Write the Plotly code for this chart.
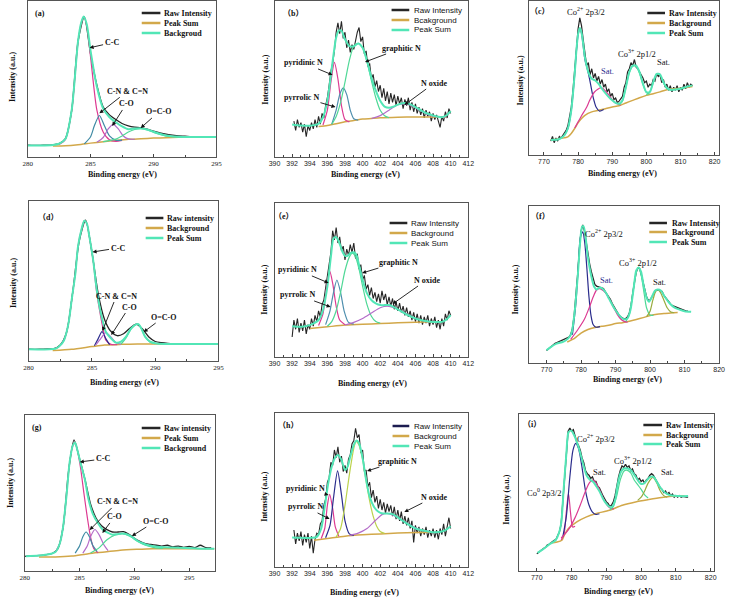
import plotly.graph_objects as go

W, H = 731, 597

# ===================== DATA (intensity in % of panel height) =====================
# ---- (a) C 1s ----
a_raw_E = [280, 280.5, 281, 281.5, 282, 282.5, 283, 283.5, 284, 284.5, 285, 285.5, 286, 286.5, 287, 287.5, 288, 288.5,
           289, 289.5, 290, 290.5, 291, 291.5, 292, 292.5, 293, 293.5, 294, 294.5, 295]
a_raw_I = [7.6, 7.4, 7.5, 7.6, 7.8, 8.6, 11.8, 30, 74, 90, 66, 46, 32, 27, 24, 21.5, 20, 19.2, 18.8, 17.8, 16.6, 15.5,
           14.6, 14.0, 13.5, 13.3, 13.0, 13.1, 12.9, 13.0, 12.9]
a_env_E = [280, 281, 282, 282.5, 283, 283.5, 284, 284.25, 284.45, 284.7, 285, 285.5, 286, 286.5, 287, 287.5, 288, 288.5,
           289, 289.5, 290, 290.5, 291, 292, 293, 294, 295]
a_env_I = [7.4, 7.4, 7.7, 8.5, 11.5, 30, 74, 86, 90, 85, 68, 45, 31, 25.5, 22.3, 19.6, 17.8, 18.2, 18.5, 17.6, 16.2, 14.9,
           13.8, 13.0, 12.8, 12.8, 12.8]
a_bg_E = [282, 283, 284, 285, 286, 287, 288, 289, 290, 291, 292, 293, 295]
a_bg_I = [7.0, 7.2, 7.9, 8.9, 9.8, 10.6, 11.3, 11.7, 12.1, 12.3, 12.6, 12.8, 12.8]
a_cc_E = [282.5, 283, 283.5, 284, 284.25, 284.45, 284.7, 285, 285.5, 286, 286.5, 287, 287.5]
a_cc_I = [8.0, 11.3, 29.5, 73.5, 85.5, 90, 84, 64, 30, 16, 11, 10, 10.6]
a_cn_E = [284.5, 285, 285.3, 285.7, 286.1, 286.5, 287, 287.5]
a_cn_I = [8.4, 13, 20, 26.6, 20, 13.5, 10.8, 10.8]
a_co_E = [285.5, 286, 286.4, 286.8, 287.2, 287.6, 288, 288.5]
a_co_I = [9.4, 12.5, 18, 20.9, 18, 13.5, 11.6, 11.4]
a_oco_E = [286, 287, 287.5, 288, 288.5, 289, 289.5, 290, 290.5, 291, 292, 293]
a_oco_I = [9.9, 11.5, 13.5, 16, 17.6, 18.1, 17.4, 15.8, 14.4, 13.4, 12.8, 12.8]

# ---- (b) N 1s ----
b_raw_E = [392.2, 392.4, 392.6, 392.8, 393.0, 393.2, 393.4, 393.6, 393.8, 394.0, 394.2, 394.4, 394.6, 394.8, 395.0,
           395.2, 395.4, 395.6, 395.8, 396.0, 396.2, 396.4, 396.6, 396.8, 397.0, 397.2, 397.4, 397.6, 397.8, 398.0,
           398.2, 398.4, 398.6, 398.8, 399.0, 399.2, 399.4, 399.6, 399.8, 400.0, 400.2, 400.4, 400.6, 400.8, 401.0,
           401.2, 401.4, 401.6, 401.8, 402.0, 402.2, 402.4, 402.6, 402.8, 403.0, 403.2, 403.4, 403.6, 403.8, 404.0,
           404.2, 404.4, 404.6, 404.8, 405.0, 405.2, 405.4, 405.6, 405.8, 406.0, 406.2, 406.4, 406.6, 406.8, 407.0,
           407.2, 407.4, 407.6, 407.8, 408.0, 408.2, 408.4, 408.6, 408.8, 409.0, 409.2, 409.4, 409.6, 409.8, 410.0]
b_raw_I = [23, 17, 24, 19, 22, 16, 21, 13, 20, 17, 22, 18, 24, 19, 26, 21, 28, 25, 33, 38,
           46, 55, 60, 68, 80, 86, 79, 87, 76, 80, 70, 75, 67, 72, 69, 76, 80, 83, 74, 77,
           66, 68, 58, 60, 50, 53, 45, 49, 42, 46, 38, 44, 36, 42, 34, 41, 35, 40, 33, 39,
           34, 38, 31, 37, 33, 38, 30, 35, 29, 34, 28, 32, 27, 31, 25, 30, 26, 29, 23, 28,
           24, 27, 22, 19, 26, 23, 29, 25, 31, 28]
b_env_E = [392, 393, 394, 395, 395.5, 396, 396.5, 397, 397.3, 397.6, 398, 398.5, 399, 399.5, 400, 400.5, 401, 401.5,
           402, 402.5, 403, 403.5, 404, 404.5, 405, 405.5, 406, 407, 408, 409, 409.5, 410]
b_env_I = [20.9, 20.2, 20, 21.3, 25.5, 36, 57, 76.6, 81, 80.9, 75.5, 71, 71, 72.8, 70, 61.7, 51, 42.5, 36, 32.3, 31.5,
           32.3, 33.6, 34.5, 34.5, 33.6, 32, 28.7, 26.6, 25.5, 26.6, 29.4]
b_bg_E = [395, 396, 397, 398, 399, 400, 401, 402, 404, 406, 408, 409.5]
b_bg_I = [19.6, 20.2, 21.3, 22.6, 23.4, 24.3, 24.7, 25.1, 25.5, 25.7, 25.7, 25.7]
b_pyd_E = [395.5, 396, 396.4, 396.8, 397.2, 397.6, 398, 398.5]
b_pyd_I = [20.5, 30, 48, 60.6, 50, 33, 24, 22.5]
b_pyr_E = [396.5, 397, 397.4, 397.8, 398.2, 398.6, 399, 399.5]
b_pyr_I = [21, 30, 40, 44.3, 40, 30, 24.5, 23.6]
b_gra_E = [396.5, 397, 397.5, 398, 398.5, 399, 399.5, 400, 400.5, 401, 401.5, 402, 402.5, 403]
b_gra_I = [21, 26, 35, 48, 62, 71, 72.8, 70, 61, 49, 38, 30, 26.5, 25.2]
b_nox_E = [401, 402, 403, 404, 404.8, 405.5, 406.5, 407.5, 408.5, 409.5]
b_nox_I = [24.7, 26.5, 30, 33.5, 34, 33, 30, 27, 25.7, 25.7]

# ---- (c) Co 2p ----
c_raw_E = [772, 772.5, 773, 773.5, 774, 774.5, 775, 775.5, 776, 776.5, 777, 777.5, 778, 778.5, 779, 779.5, 780, 780.5,
           781, 781.5, 782, 782.5, 783, 783.5, 784, 784.5, 785, 785.5, 786, 786.5, 787, 787.5, 788, 788.5, 789, 789.5,
           790, 790.5, 791, 791.5, 792, 792.5, 793, 793.5, 794, 794.5, 795, 795.5, 796, 796.5, 797, 797.5, 798, 798.5,
           799, 799.5, 800, 800.5, 801, 801.5, 802, 802.5, 803, 803.5, 804, 804.5, 805, 805.5, 806, 806.5, 807, 807.5,
           808, 808.5, 809, 809.5, 810, 810.5, 811, 811.5, 812, 812.5, 813, 813.5]
c_raw_I = [9, 12, 8, 11, 9, 12, 11, 13, 14, 16, 19, 24, 31, 42, 55, 70, 82, 89, 84, 75,
           66, 58, 60, 52, 56, 50, 53, 48, 51, 46, 49, 44, 46, 41, 43, 38, 40, 36, 37, 34,
           35, 37, 38, 44, 47, 54, 56, 60, 58, 62, 57, 56, 54, 52, 50, 47, 48, 44, 46, 45,
           49, 48, 53, 51, 52, 47, 49, 44, 46, 42, 45, 41, 44, 42, 45, 41, 44, 42, 46, 43,
           47, 44, 46, 45]
c_env_E = [772, 773, 774, 775, 776, 777, 778, 779, 779.5, 780, 780.5, 781, 781.5, 782, 783, 784, 785, 786, 787, 788,
           789, 790, 791, 792, 793, 794, 795, 796, 797, 798, 799, 800, 801, 802, 803, 804, 805, 806, 807, 808, 810,
           812, 813.5]
c_env_I = [9.7, 9.9, 10.1, 11, 12.9, 17.2, 29, 52.7, 67.7, 78.5, 82.4, 79.6, 72, 63.4, 53.8, 49.5, 48.4, 46.2, 43,
           40.2, 37.6, 35.5, 33.8, 33.3, 35.5, 44, 53.8, 58, 58, 53.8, 46.2, 40.9, 40.9, 47.3, 52.7, 52.3, 47.3, 43.7,
           42.4, 42.4, 43, 44.5, 45.2]
c_bg_E = [772, 775, 777, 778, 779, 780, 781, 782, 784, 786, 788, 790, 792, 794, 796, 798, 800, 802, 804, 806, 808,
          810, 813.5]
c_bg_I = [9.7, 10.8, 11.8, 14, 17.2, 20.9, 23.7, 25.8, 28, 29, 30.1, 31.2, 32, 33.8, 35.5, 37.2, 38.7, 39.8, 41, 42.4,
          43, 43.4, 44.5]
c_co2_E = [776, 777, 778, 779, 779.5, 780, 780.5, 781, 781.5, 782, 782.8, 783.4, 784.4, 785.3, 786.3, 787.5]
c_co2_I = [12.9, 17.2, 29, 52, 67, 78, 82, 79, 71, 62, 55, 49, 37.6, 31, 28.5, 29.5]
c_sat1_E = [779, 780, 781, 782.5, 783.4, 784.8, 786.8, 788.7, 790.6, 792.5]
c_sat1_I = [17.5, 21.5, 25.5, 31, 35.5, 40.9, 43.7, 39.8, 34.4, 32.3]
c_co3_E = [792, 793, 794, 795, 796, 797, 798, 799, 800, 801]
c_co3_I = [32.5, 35, 44, 53.5, 57.7, 57.5, 53, 46, 40.5, 39.5]
c_sat2_E = [800, 801, 802, 803, 804, 805, 806, 807, 808]
c_sat2_I = [39, 41, 47, 52.5, 52, 47, 43, 42.2, 42.6]

# ---- (d) C 1s ----
d_raw_E = [280, 280.5, 281, 281.5, 282, 282.5, 283, 283.5, 284, 284.5, 285, 285.5, 286, 286.5, 287, 287.5, 288, 288.5,
           289, 289.5, 290, 290.5, 291, 291.5, 292, 292.5, 293, 293.5, 294, 294.5, 295]
d_raw_I = [7.4, 7.3, 7.4, 7.5, 7.7, 10, 18, 44, 75, 88, 68, 42, 26, 18.5, 15.8, 17, 20.5, 23, 20, 15, 12.2, 11.4, 11,
           10.8, 10.7, 10.6, 10.7, 10.6, 10.6, 10.7, 10.6]
d_env_E = [280, 282.1, 282.4, 282.8, 283.15, 283.4, 283.7, 283.9, 284.2, 284.4, 284.6, 284.8, 285.1, 285.35, 285.6,
           285.9, 286.1, 286.5, 286.9, 287.3, 287.7, 288.1, 288.5, 288.7, 288.9, 289.2, 289.6, 290.1, 291.2, 292.5, 295]
d_env_I = [7.3, 7.7, 9, 13, 23.5, 38, 55, 71.5, 83, 87.7, 86, 77.7, 63, 46.5, 34, 23.5, 18.3, 14.2, 11.5, 12.1, 15.2,
           20.4, 22.9, 22.9, 20.4, 15.2, 12.1, 11, 10.6, 10.6, 10.6]
d_bg_E = [281.9, 283.4, 285, 286, 287.3, 288.6, 290, 295]
d_bg_I = [6.5, 7.3, 9, 10, 10.4, 10.6, 10.6, 10.6]
d_cc_E = [282.1, 282.4, 282.8, 283.15, 283.4, 283.7, 283.9, 284.2, 284.4, 284.6, 284.8, 285.1, 285.35, 285.6, 285.9,
          286.1, 286.5, 287]
d_cc_I = [7.7, 9, 13, 23.5, 38, 55, 71.5, 83, 87.7, 86, 77.7, 63, 44.4, 31.9, 19.4, 13, 10.4, 10.2]
d_cn_E = [285.2, 285.5, 285.8, 286.1, 286.4]
d_cn_I = [9.5, 14, 18.3, 14, 10.2]
d_co_E = [285.3, 285.7, 286.1, 286.5, 286.9, 287.3]
d_co_I = [10, 14, 17.7, 15, 11.5, 10.4]
d_oco_E = [287.3, 287.7, 288.1, 288.5, 288.7, 288.9, 289.2, 289.6, 290]
d_oco_I = [10.6, 14.5, 20, 22.9, 22.9, 20.5, 15.2, 11.8, 10.8]

# ---- (e) N 1s ----
e_raw_E = [392.0, 392.2, 392.4, 392.6, 392.8, 393.0, 393.2, 393.4, 393.6, 393.8, 394.0, 394.2, 394.4, 394.6, 394.8,
           395.0, 395.2, 395.4, 395.6, 395.8, 396.0, 396.2, 396.4, 396.6, 396.8, 397.0, 397.2, 397.4, 397.6, 397.8,
           398.0, 398.2, 398.4, 398.6, 398.8, 399.0, 399.2, 399.4, 399.6, 399.8, 400.0, 400.2, 400.4, 400.6, 400.8,
           401.0, 401.2, 401.4, 401.6, 401.8, 402.0, 402.2, 402.4, 402.6, 402.8, 403.0, 403.2, 403.4, 403.6, 403.8,
           404.0, 404.2, 404.4, 404.6, 404.8, 405.0, 405.2, 405.4, 405.6, 405.8, 406.0, 406.2, 406.4, 406.6, 406.8,
           407.0, 407.2, 407.4, 407.6, 407.8, 408.0, 408.2, 408.4, 408.6, 408.8, 409.0, 409.2, 409.4, 409.6, 409.8,
           410.0]
e_raw_I = [13, 24, 18, 25, 16, 22, 17, 24, 15, 21, 18, 25, 20, 27, 23, 30, 26, 34, 37, 45,
           50, 60, 68, 82, 76, 84, 74, 78, 69, 72, 63, 70, 66, 73, 68, 74, 64, 67, 57, 60,
           50, 53, 44, 47, 40, 45, 38, 42, 36, 41, 35, 43, 37, 41, 34, 39, 33, 38, 31, 36,
           30, 35, 29, 33, 27, 32, 26, 30, 24, 29, 23, 28, 22, 27, 21, 26, 22, 27, 20, 25,
           21, 26, 19, 24, 18, 25, 20, 28, 24, 30, 27]
e_env_E = [392, 393, 394, 395, 395.5, 396, 396.4, 396.7, 397, 397.3, 397.7, 398, 398.3, 398.6, 399, 399.3, 399.6,
           400, 400.5, 401, 401.5, 402, 402.5, 403, 403.5, 404, 405, 406, 407, 408, 409, 409.5, 410]
e_env_I = [20, 19.6, 20.7, 24, 30.4, 45.7, 65, 77, 77.8, 75, 68.5, 65.7, 65.7, 67.4, 68, 66.3, 59.8, 50, 41.3, 37,
           34.8, 33.7, 33.7, 33.7, 32.6, 30.9, 27.6, 25, 23.5, 22.8, 22.8, 24.3, 27.2]
e_bg_E = [394, 396, 398, 400, 402, 404, 406, 408, 409]
e_bg_I = [18.5, 19.6, 20.7, 21.3, 21.7, 22.2, 22.6, 22.8, 22.8]
e_pyd_E = [395, 395.5, 395.9, 396.26, 396.6, 397, 397.4, 398]
e_pyd_I = [20.5, 28, 45, 55.9, 48, 33, 24, 21]
e_pyr_E = [395.8, 396.3, 396.7, 397.08, 397.5, 397.9, 398.4, 399]
e_pyr_I = [21, 30, 42, 50, 42, 30, 22.5, 21.3]
e_gra_E = [396, 396.5, 397, 397.5, 398, 398.5, 398.84, 399.2, 399.6, 400, 400.5, 401, 401.5, 402]
e_gra_I = [20, 23, 30, 42, 56, 65, 67.4, 65, 57, 46, 34, 26.5, 23, 22]
e_nox_E = [398, 399, 400, 401, 402, 402.8, 403.6, 404.5, 405.5, 406.5, 407.5]
e_nox_I = [20.8, 22.5, 25, 28.5, 32, 33, 32, 29.5, 26.5, 24, 22.8]

# ---- (f) Co 2p ----
f_raw_E = [770, 770.5, 771, 771.5, 772, 772.5, 773, 773.5, 774, 774.5, 775, 775.5, 776, 776.5, 777, 777.5, 778, 778.5,
           779, 779.5, 780, 780.5, 781, 781.5, 782, 782.5, 783, 783.5, 784, 784.5, 785, 785.5, 786, 786.5, 787, 787.5,
           788, 788.5, 789, 789.5, 790, 790.5, 791, 791.5, 792, 792.5, 793, 793.5, 794, 794.5, 795, 795.5, 796, 796.5,
           797, 797.5, 798, 798.5, 799, 799.5, 800, 800.5, 801, 801.5, 802, 802.5, 803, 803.5, 804, 804.5, 805, 805.5,
           806, 806.5, 807, 807.5, 808, 808.5, 809, 809.5, 810, 810.5, 811]
f_raw_I = [8, 9, 10, 11, 12, 12.5, 13, 13.5, 13.5, 14, 14.5, 15, 16, 16.5, 18, 22, 30, 42, 56, 72,
           84, 88, 84, 77, 69, 63, 58, 53, 50, 49, 48.5, 48.5, 48, 47.5, 45.5, 44, 42, 40.5, 38, 36,
           34, 32.5, 30.5, 29.5, 28.5, 28, 28.5, 29.5, 32, 37, 45, 53, 58, 60.5, 60, 56, 51, 46, 42, 40,
           40, 42, 44.5, 46, 46.5, 46.5, 46, 45.5, 43, 41.5, 40, 39, 37.5, 36.5, 36, 36, 35, 34.5, 34, 34,
           33.5, 33, 33]
f_env_E = [770, 771, 772.9, 774.8, 776.2, 777.2, 778.1, 779.1, 779.7, 780.3, 780.7, 781.2, 781.9, 782.9, 783.8, 784.5,
           785.3, 786.2, 787.2, 788.1, 789.1, 790, 791.5, 792.4, 793.4, 794.3, 795.3, 796, 796.7, 797.4, 798.1, 799.1,
           799.7, 800.5, 801.4, 802.2, 803.2, 804.3, 805.7, 807.1, 808.6, 810, 811.9]
f_env_I = [8.1, 9.8, 12.3, 13.4, 15.5, 18.7, 31.5, 57, 76, 86.8, 87.2, 82.5, 68.7, 56, 48.5, 46.8, 48, 47.4, 44.7, 41,
           36.8, 33.6, 29.4, 27.9, 28.3, 33.6, 48.5, 59, 60.9, 58, 49.6, 41, 39, 42, 46, 46.8, 46, 42, 37.9, 35.3, 34,
           33, 32.6]
f_bg_E = [776, 778, 780, 782, 784, 786, 788, 790, 792, 794, 796, 798, 800, 802, 804, 806, 808]
f_bg_I = [13.4, 15.5, 19.1, 21.3, 22.6, 23.4, 24, 25.1, 25.7, 26.6, 27.7, 28.9, 30.2, 31.1, 31.5, 31.9, 32.1]
f_co2_E = [777.5, 778.5, 779.3, 779.8, 780.5, 781.1, 781.7, 782.3, 782.9, 783.5, 784.3, 785.5]
f_co2_I = [18, 38, 65, 80, 83.6, 76, 60, 42, 30, 24.5, 22.8, 23.2]
f_sat1_E = [777, 779, 781, 782.5, 783.5, 784.5, 785.3, 786.5, 787.5, 788.5, 789.5, 790.5, 791.5, 792.5, 793.5]
f_sat1_I = [15, 21, 28, 36, 42, 46.5, 47.4, 46, 43.5, 39.5, 35, 31, 28, 26.5, 26]
f_co3_E = [793, 794, 795, 795.8, 796.7, 797.5, 798.3, 799, 800, 801]
f_co3_I = [26.5, 31, 44, 56, 60.9, 55, 44, 35, 30.5, 30.5]
f_sat2_E = [799, 800, 800.8, 801.5, 802.2, 803, 804, 805, 806, 807]
f_sat2_I = [29.5, 33, 40, 45, 46.8, 45, 40, 35, 32.5, 32]

# ---- (g) C 1s ----
g_raw_E = [280, 280.5, 281, 281.5, 282, 282.5, 283, 283.5, 284, 284.5, 285, 285.5, 286, 286.5, 287, 287.5, 288, 288.5,
           289, 289.5, 290, 290.5, 291, 291.5, 292, 292.5, 293, 293.5, 294, 294.5, 295, 295.5, 296, 296.5, 297]
g_raw_I = [9.4, 9.6, 9.8, 10, 10.5, 11.2, 14, 28, 64, 84, 72, 58.5, 43, 34, 29, 26.5, 25, 25, 25.2, 23.5, 21, 19,
           17.5, 17, 16.5, 16, 16.5, 15.5, 16, 15.2, 15.8, 15, 16.5, 15, 14.8]
g_env_E = [280.1, 281.3, 282.2, 282.8, 283.2, 283.5, 283.8, 284.1, 284.4, 284.6, 284.8, 285.1, 285.5, 285.8, 286.2,
           286.7, 287.1, 287.6, 288, 288.4, 288.9, 289.3, 289.8, 290.2, 290.8, 291.4, 292.3, 293.2, 294.7, 296.2, 297.3]
g_env_I = [9.4, 9.9, 10.7, 12.2, 17.6, 28.3, 47.5, 70, 80.7, 82.2, 77.5, 69, 58.2, 46.5, 36.8, 30.4, 26.6, 24.4, 23.3,
           23.6, 24, 23.6, 21.8, 19.7, 17.6, 16.3, 15.4, 15, 14.8, 14.3, 14.3]
g_bg_E = [281.3, 282.8, 284.3, 285.8, 287.3, 288.7, 290.2, 291.7, 293.2, 297.3]
g_bg_I = [9, 9, 9.6, 11.1, 12.2, 13.3, 13.9, 14.3, 14.3, 14.3]
g_cc_E = [282.8, 283.2, 283.5, 283.8, 284.1, 284.4, 284.6, 284.8, 285.1, 285.4, 285.7, 286, 286.3, 286.7]
g_cc_I = [12.2, 17.6, 28.3, 47.5, 70, 80.7, 82.2, 77.5, 65.7, 49.7, 34.7, 21.8, 14.3, 11.6]
g_cn_E = [284.6, 285, 285.3, 285.6, 285.9, 286.2, 286.6]
g_cn_I = [11.5, 16, 22, 25, 22, 16.5, 12.5]
g_co_E = [285.3, 285.7, 286, 286.4, 286.8, 287.2, 287.6]
g_co_I = [11.5, 16, 22, 26.6, 23, 17, 13]
g_oco_E = [286, 286.8, 287.5, 288.2, 288.9, 289.6, 290.3, 291, 291.8, 292.6]
g_oco_I = [11.5, 15, 20, 23, 24, 22.3, 19, 16.5, 15, 14.5]

# ---- (h) N 1s ----
h_raw_E = list(b_raw_E)
h_raw_I = [24, 15, 22, 17, 23, 14, 21, 16, 22, 12, 20, 9, 18, 22, 21, 28, 30, 40, 44, 55,
           58, 68, 66, 76, 71, 78, 68, 72, 62, 66, 61, 70, 73, 80, 82, 90, 84, 86, 74, 76,
           62, 63, 52, 55, 45, 50, 42, 46, 38, 44, 37, 42, 35, 41, 36, 40, 33, 39, 31, 37,
           30, 36, 28, 33, 27, 32, 25, 30, 16, 27, 22, 26, 20, 25, 21, 26, 19, 24, 20, 25,
           19, 24, 18, 25, 21, 28, 20, 27, 32, 25]
h_env_E = [392, 394, 394.8, 395.3, 395.7, 396.1, 396.5, 396.9, 397.2, 397.6, 398, 398.3, 398.6, 399, 399.3, 399.6,
           400, 400.4, 400.8, 401.3, 401.8, 402.3, 402.8, 403.4, 404, 405, 406, 407, 408, 409, 409.5, 410]
h_env_I = [19.1, 18.9, 19.6, 25, 39, 54.3, 65.2, 71.3, 72.8, 69.6, 63, 65.2, 71.7, 79.3, 82.2, 80.4, 70.7, 56.5, 45.7,
           39, 35.9, 34.8, 34.8, 34.3, 32.2, 28.3, 25, 23.5, 22.6, 23, 24.3, 26.5]
h_bg_E = [394.5, 396, 398, 400, 402, 404, 406, 408]
h_bg_I = [17.4, 18.5, 20, 20.9, 21.5, 22, 22.4, 22.6]
h_pyd_E = [395.3, 395.7, 396, 396.26, 396.6, 396.9, 397.3]
h_pyd_I = [18.5, 25, 40, 47.2, 38, 26, 20]
h_pyr_E = [395.8, 396.3, 396.7, 397.16, 397.6, 398, 398.5, 399]
h_pyr_I = [19, 27, 45, 62.4, 47, 30, 21.5, 20.5]
h_gra_E = [397, 397.5, 398, 398.5, 399, 399.25, 399.6, 400, 400.4, 400.8, 401.2, 401.6, 402, 402.5]
h_gra_I = [19.5, 25, 40, 60, 77, 81.5, 79, 70, 56, 43, 33, 26.5, 23, 21.8]
h_nox_E = [398.5, 399.5, 400.5, 401.5, 402.2, 402.7, 403.3, 404, 405, 406, 407, 408]
h_nox_I = [20.5, 22, 25, 30.5, 34, 34.8, 34, 32, 28.5, 25.5, 23.5, 22.8]

# ---- (i) Co 2p ----
i_raw_E = [770, 770.5, 771, 771.5, 772, 772.5, 773, 773.5, 774, 774.5, 775, 775.5, 776, 776.5, 777, 777.5, 778, 778.5,
           779, 779.5, 780, 780.5, 781, 781.5, 782, 782.5, 783, 783.5, 784, 784.5, 785, 785.5, 786, 786.5, 787, 787.5,
           788, 788.5, 789, 789.5, 790, 790.5, 791, 791.5, 792, 792.5, 793, 793.5, 794, 794.5, 795, 795.5, 796, 796.5,
           797, 797.5, 798, 798.5, 799, 799.5, 800, 800.5, 801, 801.5, 802, 802.5, 803, 803.5, 804, 804.5, 805, 805.5,
           806, 806.5, 807, 807.5, 808, 808.5, 809, 809.5, 810, 810.5, 811, 811.5, 812, 812.5, 813, 813.5]
i_raw_I = [11, 12, 13, 13.5, 14.5, 15, 16.5, 17, 18, 18.5, 19.5, 20, 22, 25, 30, 45, 62, 80, 89, 91,
           89, 90, 85, 82, 80, 77, 72, 69, 64, 62, 61, 59, 60, 57, 57, 54, 53, 50, 48, 46,
           44, 43, 41, 42, 44, 48, 55, 60, 64, 67, 66, 68, 66, 67, 64, 65, 62, 61, 58, 59,
           57, 58, 56, 58, 59, 61, 62, 61, 59, 57, 55, 53, 52, 50, 51, 49, 50, 48, 49, 47,
           48, 47, 48, 47, 47.5, 47, 47, 47]
i_env_E = [770.2, 772.1, 773.9, 775.4, 776.3, 777, 777.7, 778.5, 779.1, 779.9, 780.7, 781.5, 782.4, 783.4, 784.3,
           785.2, 786.2, 787.1, 788.1, 789, 789.9, 790.9, 791.8, 792.6, 793.2, 794.2, 795.1, 796.1, 797, 797.9, 798.9,
           799.8, 800.8, 801.7, 802.6, 803.6, 804.5, 805.5, 806.9, 808.3, 809.7, 811.1, 813.5]
i_env_I = [11.5, 14.3, 17.4, 19.6, 23.8, 30.2, 51.5, 74.9, 88.3, 89.4, 86.6, 82.3, 76, 67.4, 61, 58.3, 56.8, 54,
           50.4, 46.2, 43, 40.9, 41.3, 46.2, 54.7, 63.2, 65.3, 65.3, 64.3, 61.7, 58.3, 55.7, 55.7, 57.9, 60, 60, 56.8,
           53.2, 49.8, 48.3, 47.9, 47.7, 47.7]
i_bg_E = [773.9, 775.8, 777.2, 777.9, 779.1, 781.5, 784.3, 787.1, 790.9, 794.6, 798.4, 802.2, 805.9, 809.7, 812.5]
i_bg_I = [17.9, 18.5, 19.6, 22.8, 27, 31.3, 34.5, 36.6, 38.7, 41.9, 44, 45.5, 46.8, 47.7, 47.7]
i_co0_E = [777, 777.8, 778.5, 779.1, 779.7, 780.3, 781]
i_co0_I = [19.8, 23, 38, 49.4, 37, 28, 28.5]
i_co2_E = [777.5, 778.5, 779.5, 780.4, 781.2, 782, 783, 784, 785, 786, 787, 788]
i_co2_I = [22, 35, 60, 77, 81.3, 78, 66, 51, 42, 37.5, 36, 36.5]
i_sat1_E = [777, 779, 781, 782.5, 784, 785.2, 786.2, 787.2, 788.2, 789.2, 790.2, 791.2, 792.2]
i_sat1_I = [21, 26, 34, 42, 51, 56.5, 57.9, 55.5, 51, 46, 42, 40, 39.5]
i_co3_E = [791, 792, 793, 794, 795, 795.8, 797, 798, 799, 800, 801, 802]
i_co3_I = [39, 41, 48, 58, 63.5, 64.3, 62.5, 58, 55, 52, 48.5, 46.5]
i_sat2_E = [799, 800, 801, 802, 803.4, 804.5, 805.5, 806.5, 807.5]
i_sat2_I = [45, 47, 51, 56, 59.6, 56, 51, 48, 47]

# ===================== STYLE =====================
SERIF = "Liberation Serif, Times New Roman, serif"
SANS = "Liberation Sans, Arial, sans-serif"
CJK = "Liberation Serif, Noto Sans CJK SC"
C_RAW = "#262626"
C_BG = "#d2a84a"
C_ENV = "#52e6b6"
C_MAG = "#dc3a92"
C_TEAL = "#3f8aa4"
C_PURP = "#b46cc8"
C_GRN = "#4fd896"
C_NAVY = "#2a2c8c"
C_OLIVE = "#98ab3e"
C_STEEL = "#4f8fae"
C_YG = "#bcd24c"

fig = go.Figure()


def sfx(k):
    return "" if k == 1 else str(k)


def line(k, x, y, color, width=1.2, shape="spline"):
    n = min(len(x), len(y))
    ln = dict(color=color, width=width, shape=shape)
    if shape == "spline":
        ln["smoothing"] = 0.7
    fig.add_trace(go.Scatter(x=x[:n], y=y[:n], mode="lines", xaxis="x" + sfx(k), yaxis="y" + sfx(k),
                             line=ln, hoverinfo="skip", showlegend=False))


# panel geometry in pixels: (L, R, T, B), x-range, dtick, minor dtick, tick0, tick font
PANELS = [
    ((22, 214, 1, 157), [280, 295], 5, 2.5, 280, SERIF),
    ((273, 470, 1, 157), [390, 412], 2, 1, 390, SANS),
    ((532, 725, 1, 155), [765.7, 821.3], 10, 5, 770, SANS),
    ((23, 216, 201, 361), [280, 295], 5, 2.5, 280, SERIF),
    ((273, 470, 203, 357), [390, 412], 2, 1, 390, SANS),
    ((532, 725, 206, 363), [765, 820], 10, 5, 770, SANS),
    ((19, 212, 415, 571), [280, 297.3], 5, 2.5, 280, SERIF),
    ((273, 470, 413, 567), [390, 412], 2, 1, 390, SANS),
    ((522, 720, 414, 571), [765, 821], 10, 5, 770, SANS),
]

for k, ((L, R, T, B), xr, dt, mdt, t0, tf) in enumerate(PANELS, start=1):
    s = sfx(k)
    fig.layout["xaxis" + s] = dict(
        domain=[L / W, R / W], range=xr, anchor="y" + s, tick0=t0, dtick=dt, ticks="inside", ticklen=3,
        tickwidth=1, tickcolor="#444", showline=True, linecolor="#555", linewidth=1, mirror=True,
        showgrid=False, zeroline=False, tickfont=dict(family=tf, size=7, color="#222"),
        minor=dict(dtick=mdt, ticks="inside", ticklen=2, tickcolor="#444", showgrid=False))
    fig.layout["yaxis" + s] = dict(
        domain=[1 - B / H, 1 - T / H], range=[0, 100], anchor="x" + s, showticklabels=False, ticks="",
        showline=True, linecolor="#555", linewidth=1, mirror=True, showgrid=False, zeroline=False)

# ---- traces ----
line(1, a_raw_E, a_raw_I, C_RAW, 1.3)
line(1, a_bg_E, a_bg_I, C_BG, 1.5)
line(1, a_cc_E, a_cc_I, C_MAG)
line(1, a_cn_E, a_cn_I, C_TEAL)
line(1, a_co_E, a_co_I, C_PURP)
line(1, a_oco_E, a_oco_I, C_GRN)
line(1, a_env_E, a_env_I, C_ENV, 2)

line(2, b_raw_E, b_raw_I, C_RAW, 1.1, "linear")
line(2, b_bg_E, b_bg_I, C_BG, 1.5)
line(2, b_pyd_E, b_pyd_I, C_MAG)
line(2, b_pyr_E, b_pyr_I, C_STEEL)
line(2, b_gra_E, b_gra_I, C_GRN)
line(2, b_nox_E, b_nox_I, C_PURP)
line(2, b_env_E, b_env_I, C_ENV, 2)

line(3, c_raw_E, c_raw_I, C_RAW, 1.2, "linear")
line(3, c_bg_E, c_bg_I, C_BG, 1.5)
line(3, c_co2_E, c_co2_I, C_NAVY)
line(3, c_sat1_E, c_sat1_I, C_MAG)
line(3, c_co3_E, c_co3_I, C_GRN)
line(3, c_sat2_E, c_sat2_I, C_GRN)
line(3, c_env_E, c_env_I, C_ENV, 2)

line(4, d_raw_E, d_raw_I, C_RAW, 1.3)
line(4, d_bg_E, d_bg_I, C_BG, 1.5)
line(4, d_cc_E, d_cc_I, C_MAG)
line(4, d_cn_E, d_cn_I, C_NAVY)
line(4, d_co_E, d_co_I, C_PURP)
line(4, d_oco_E, d_oco_I, C_GRN)
line(4, d_env_E, d_env_I, C_ENV, 2)

line(5, e_raw_E, e_raw_I, C_RAW, 1.1, "linear")
line(5, e_bg_E, e_bg_I, C_BG, 1.5)
line(5, e_pyd_E, e_pyd_I, C_MAG)
line(5, e_pyr_E, e_pyr_I, C_STEEL)
line(5, e_gra_E, e_gra_I, C_GRN)
line(5, e_nox_E, e_nox_I, C_PURP)
line(5, e_env_E, e_env_I, C_ENV, 2)

line(6, f_raw_E, f_raw_I, C_RAW, 1.3, "linear")
line(6, f_bg_E, f_bg_I, C_BG, 1.5)
line(6, f_co2_E, f_co2_I, C_NAVY)
line(6, f_sat1_E, f_sat1_I, C_MAG)
line(6, f_co3_E, f_co3_I, C_GRN)
line(6, f_sat2_E, f_sat2_I, C_OLIVE)
line(6, f_env_E, f_env_I, C_ENV, 2)

line(7, g_raw_E, g_raw_I, C_RAW, 1.3)
line(7, g_bg_E, g_bg_I, C_BG, 1.5)
line(7, g_cc_E, g_cc_I, C_MAG)
line(7, g_cn_E, g_cn_I, C_TEAL)
line(7, g_co_E, g_co_I, C_PURP)
line(7, g_oco_E, g_oco_I, C_GRN)
line(7, g_env_E, g_env_I, C_ENV, 2)

line(8, h_raw_E, h_raw_I, C_RAW, 1.1, "linear")
line(8, h_bg_E, h_bg_I, C_BG, 1.5)
line(8, h_pyd_E, h_pyd_I, C_MAG)
line(8, h_pyr_E, h_pyr_I, C_NAVY)
line(8, h_gra_E, h_gra_I, C_YG)
line(8, h_nox_E, h_nox_I, C_PURP)
line(8, h_env_E, h_env_I, C_ENV, 2)

line(9, i_raw_E, i_raw_I, C_RAW, 1.3, "linear")
line(9, i_bg_E, i_bg_I, C_BG, 1.5)
line(9, i_co0_E, i_co0_I, C_MAG)
line(9, i_co2_E, i_co2_I, C_NAVY)
line(9, i_sat1_E, i_sat1_I, C_MAG)
line(9, i_co3_E, i_co3_I, C_GRN)
line(9, i_sat2_E, i_sat2_I, C_OLIVE)
line(9, i_env_E, i_env_I, C_ENV, 2)

# ===================== TEXT =====================
anns = []
shapes = []


def ptext(x, y, text, family=SERIF, size=8, bold=True, color="#111", xanchor="center", angle=0):
    anns.append(dict(x=x / W, y=1 - y / H, xref="paper", yref="paper", text=text, showarrow=False,
                     xanchor=xanchor, yanchor="middle", textangle=angle,
                     font=dict(family=family, size=size, color=color, weight="bold" if bold else "normal")))


def arrow(k, text, xE, yV, ax, ay):
    anns.append(dict(x=xE, y=yV, xref="x" + sfx(k), yref="y" + sfx(k), text=text, showarrow=True,
                     ax=ax, ay=ay, arrowhead=2, arrowsize=0.9, arrowwidth=0.9, arrowcolor="#111",
                     font=dict(family=SERIF, size=8, color="#111", weight="bold")))


def legend(x0, x1, xt, ys, labels, colors, family, bold):
    for y, lab, col in zip(ys, labels, colors):
        shapes.append(dict(type="line", xref="paper", yref="paper", x0=x0 / W, x1=x1 / W,
                           y0=1 - y / H, y1=1 - y / H, line=dict(color=col, width=2.5)))
        ptext(xt, y, lab, family=family, size=8, bold=bold, xanchor="left")


ptext(35, 13, "(a)")
ptext(292, 13, "（b）", family=CJK)
ptext(543, 11, "（c）", family=CJK)
ptext(43, 217, "（d）", family=CJK)
ptext(283, 216, "（e）", family=CJK)
ptext(543, 216, "（f）", family=CJK)
ptext(32, 427, "(g)")
ptext(287, 425, "（h）", family=CJK)
ptext(535, 424, "（i）", family=CJK)

legend(138, 157, 159, [13, 23, 33], ["Raw Intensity", "Peak Sum", "Backgroud"], [C_RAW, C_BG, C_ENV], SERIF, True)
legend(392, 410, 413, [10, 20, 30], ["Raw Intensity", "Bcakground", "Peak Sum"], [C_RAW, C_BG, C_ENV], SANS, False)
legend(652, 670, 672, [13, 23, 33], ["Raw Intensity", "Background", "Peak Sum"], [C_RAW, C_BG, C_ENV], SERIF, True)
legend(142, 160, 162, [218, 228, 238], ["Raw intensity", "Background", "Peak Sum"], [C_RAW, C_BG, C_ENV], SERIF, True)
legend(390, 408, 410, [223, 233, 243], ["Raw Intensity", "Background", "Peak Sum"], [C_RAW, C_BG, C_ENV], SANS, False)
legend(654, 672, 675, [223, 232, 242], ["Raw Intensity", "Background", "Peak Sum"], [C_RAW, C_BG, C_ENV], SERIF, True)
legend(138, 157, 159, [428, 438, 448], ["Raw intensity", "Peak Sum", "Background"], [C_RAW, C_BG, C_ENV], SERIF, True)
legend(393, 410, 413, [426, 436, 446], ["Raw Intensity", "Background", "Peak Sum"], ["#1c1c50", C_BG, C_ENV], SANS, False)
legend(648, 667, 669, [425, 435, 444], ["Raw Intensity", "Background", "Peak Sum"], [C_RAW, C_BG, C_ENV], SERIF, True)

arrow(1, "C-C", 284.92, 70, 22, -5)
arrow(1, "C-N &amp; C=N", 285.7, 28, 28, -22)
arrow(1, "C-O", 286.72, 19.9, 14, -22)
arrow(1, "O=C-O", 288.98, 18.6, 18, -16)

arrow(2, "pyridinic N", 396.59, 52.6, -29, -12)
arrow(2, "pyrrolic N", 396.92, 32, -34, -10)
arrow(2, "graphitic N", 400.27, 60.9, 37, -14)
arrow(2, "N oxide", 404.74, 33.3, 30, -22)

arrow(4, "C-C", 285.05, 68.1, 25, -4)
arrow(4, "C-N &amp; C=N", 285.83, 18.75, 14, -35)
arrow(4, "C-O", 286.53, 16.25, 18, -28)
arrow(4, "O=C-O", 289.09, 18.1, 20, -15)

arrow(5, "pyridinic N", 396.14, 48.1, -31, -13)
arrow(5, "pyrrolic N", 396.37, 32.5, -33, -12)
arrow(5, "graphitic N", 399.94, 54.5, 36, -11)
arrow(5, "N oxide", 403.4, 34.4, 34, -24)

arrow(7, "C-C", 285.02, 69.9, 23, -3)
arrow(7, "C-N &amp; C=N", 285.92, 26.3, 28, -28)
arrow(7, "C-O", 287.08, 24.4, 12, -16)
arrow(7, "O=C-O", 289.77, 22.4, 24, -15)

arrow(8, "pyridinic N", 396.14, 46.8, -23, -6)
arrow(8, "pyrrolic N", 396.25, 31.2, -24, -12)
arrow(8, "graphitic N", 400.5, 62.3, 31, -10)
arrow(8, "N oxide", 404.74, 35.7, 30, -15)

ptext(590, 11, "Co<sup>2+</sup> 2p3/2", bold=False, size=8.5)
ptext(612, 71, "Sat.", bold=False, size=8.5, color=C_NAVY)
ptext(642, 54, "Co<sup>3+</sup> 2p1/2", bold=False, size=8.5)
ptext(668, 62, "Sat.", bold=False, size=8.5)

ptext(608, 234, "Co<sup>2+</sup> 2p3/2", bold=False, size=8.5)
ptext(611, 280, "Sat.", bold=False, size=8.5, color=C_NAVY)
ptext(643, 262, "Co<sup>3+</sup> 2p1/2", bold=False, size=8.5)
ptext(664, 282, "Sat.", bold=False, size=8.5)

ptext(600, 438, "Co<sup>2+</sup> 2p3/2", bold=False, size=8.5)
ptext(603, 472, "Sat.", bold=False, size=8.5)
ptext(637, 460, "Co<sup>3+</sup> 2p1/2", bold=False, size=8.5)
ptext(673, 472, "Sat.", bold=False, size=8.5)
ptext(547, 493, "Co<sup>0</sup> 2p3/2", bold=False, size=8.5)

for (xx, yy) in [(118, 175), (365, 175), (627, 173), (120, 382), (373, 383), (632, 379), (115, 590), (364, 592),
                 (623, 591)]:
    ptext(xx, yy, "Binding energy (eV)", size=8)
for (xx, yy) in [(7, 77), (263, 80), (523, 80), (7, 283), (262, 290), (517, 290), (5, 483), (262, 497), (508, 500)]:
    ptext(xx, yy, "Intensity (a.u.)", size=8, angle=-90)

fig.update_layout(width=W, height=H, margin=dict(l=0, r=0, t=0, b=0), paper_bgcolor="white",
                  plot_bgcolor="white", showlegend=False, annotations=anns, shapes=shapes)

fig.write_html("out.html", config={"displayModeBar": False, "staticPlot": True},
               post_script="document.body.style.margin='0';document.body.style.padding='0';"
                           "document.documentElement.style.overflow='hidden';")
